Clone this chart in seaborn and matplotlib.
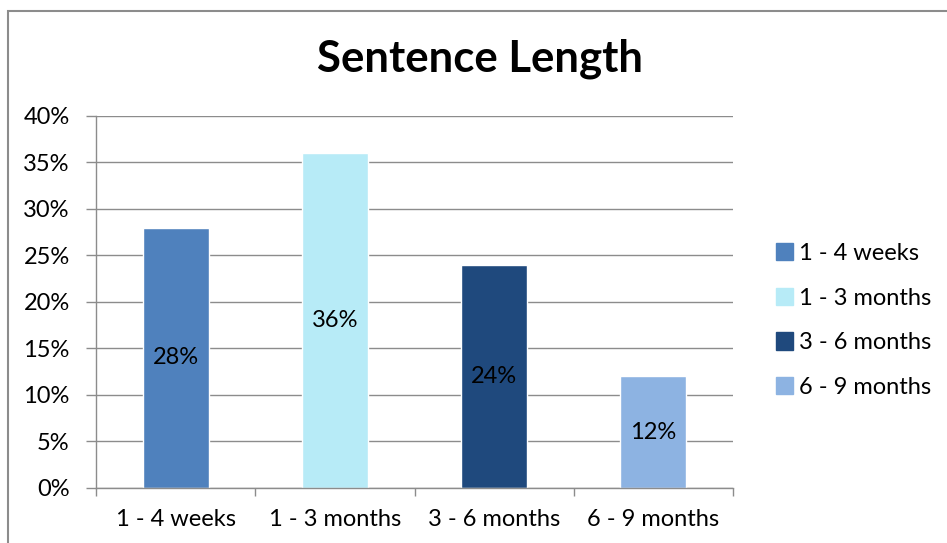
import pandas as pd
import matplotlib.pyplot as plt
import seaborn as sns
from matplotlib.patches import Rectangle

# Data
categories = ['1 - 4 weeks', '1 - 3 months', '3 - 6 months', '6 - 9 months']
shares = [28, 36, 24, 12]
bar_colors = ['#4F81BD', '#B7EBF7', '#1F497D', '#8DB3E2']
y_ticks = [0, 5, 10, 15, 20, 25, 30, 35, 40]

df = pd.DataFrame({'length': categories, 'share': shares})

sns.set_style('white')
plt.rcParams['font.family'] = ['Lato', 'DejaVu Sans']
plt.rcParams['text.color'] = 'black'
plt.rcParams['xtick.labelcolor'] = 'black'
plt.rcParams['ytick.labelcolor'] = 'black'

fig = plt.figure(figsize=(9.47, 5.43), dpi=100)
ax = fig.add_axes([0.1014, 0.1013, 0.6726, 0.6851])

sns.barplot(data=df, x='length', y='share', hue='length', palette=bar_colors,
            dodge=False, width=0.415, legend=False, ax=ax, saturation=1)

# data labels centred in bars
for i, v in enumerate(shares):
    ax.text(i, v / 2, f'{v}%', ha='center', va='center', fontsize=17, color='black')

ax.set_ylim(0, 40)
ax.set_xlim(-0.5, len(categories) - 0.5)
ax.set_yticks(y_ticks)
ax.set_yticklabels([f'{t}%' for t in y_ticks])
ax.yaxis.grid(True, color='#8c8c8c', linewidth=1)
ax.set_axisbelow(True)
ax.set_xlabel('')
ax.set_ylabel('')

# x tick marks at category boundaries
ax.set_xticks([i - 0.5 for i in range(len(categories) + 1)], minor=True)
ax.tick_params(axis='x', which='major', length=0, labelsize=17, pad=15)
ax.tick_params(axis='x', which='minor', length=6, width=1, color='#8c8c8c', direction='out', bottom=True)
ax.tick_params(axis='y', length=7, width=1, color='#8c8c8c', labelsize=17, pad=12, left=True)

for side in ['top', 'right']:
    ax.spines[side].set_visible(False)
for side in ['left', 'bottom']:
    ax.spines[side].set_color('#8c8c8c')
    ax.spines[side].set_linewidth(1)

# legend
handles = [Rectangle((0, 0), 1, 1, color=c) for c in bar_colors]
fig.legend(handles, categories, loc='upper left', bbox_to_anchor=(0.809, 0.570),
           frameon=False, fontsize=17, handlelength=0.75, handleheight=0.75,
           handletextpad=0.25, labelspacing=1.0, borderaxespad=0)

fig.text(0.507, 0.891, 'Sentence Length', ha='center', va='center',
         fontsize=31.5, fontweight='bold', color='black')

# outer chart border (cut at right/bottom)
fig.add_artist(Rectangle((8 / 947, -0.1), 1.2, 1.1 - 11 / 543,
                         transform=fig.transFigure, fill=False,
                         edgecolor='#8c8c8c', linewidth=1.5))

fig.savefig('out.png', dpi=100)
